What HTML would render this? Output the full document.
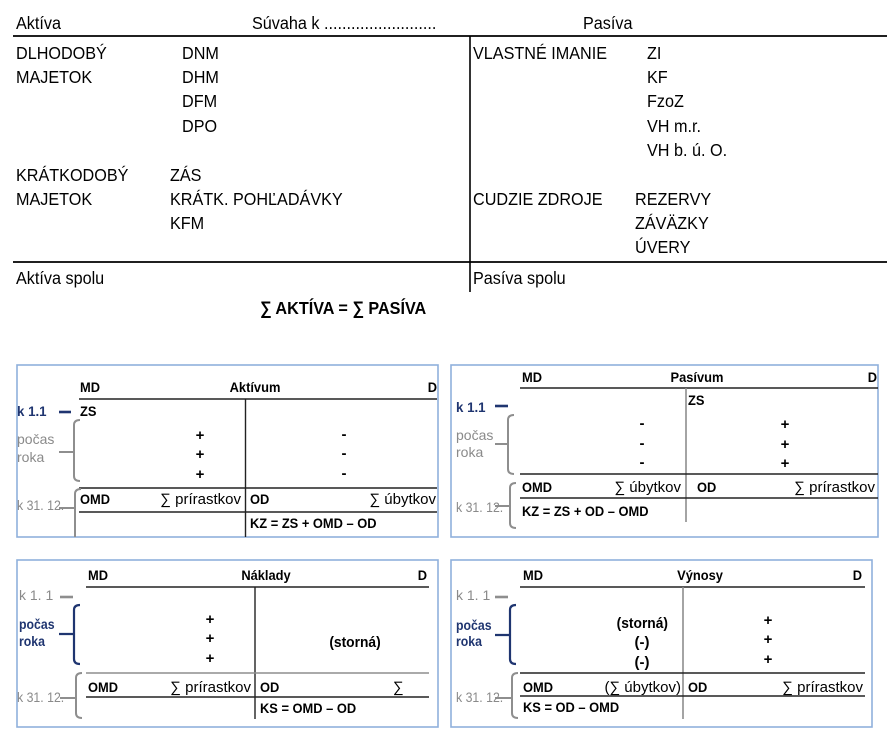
<!DOCTYPE html>
<html><head><meta charset="utf-8"><style>
html,body{margin:0;padding:0;background:#fff;}
svg{display:block;}
text{font-family:"Liberation Sans","DejaVu Sans",sans-serif;}
.t{font-size:18px;fill:#000;}
.b{font-size:14px;font-weight:bold;fill:#000;}
.p{font-size:15px;font-weight:bold;fill:#000;}
.r{font-size:15px;fill:#000;}
.g{font-size:14px;fill:#8a8a8a;}
.n{font-size:14px;font-weight:bold;fill:#1f3570;}
.ln{stroke:#222;stroke-width:1.4;fill:none;}
.lg{stroke:#8e8e8e;stroke-width:1.6;fill:none;}
.bx{stroke:#8fb0dc;stroke-width:1.6;fill:none;}
.bg{stroke:#8e8e8e;stroke-width:2;fill:none;}
.bn{stroke:#1f3570;stroke-width:2.2;fill:none;}
</style></head><body>
<svg width="887" height="737" viewBox="0 0 887 737" xmlns="http://www.w3.org/2000/svg">
<!-- top balance sheet -->
<line x1="13" y1="36" x2="887" y2="36" stroke="#000" stroke-width="1.8"/>
<line x1="13" y1="262" x2="887" y2="262" stroke="#000" stroke-width="1.8"/>
<line x1="470" y1="36" x2="470" y2="292" stroke="#000" stroke-width="1.6"/>
<g class="t">
<text transform="translate(16,29) scale(0.9,1)">Aktíva</text>
<text transform="translate(252,29) scale(0.9,1)">Súvaha k .........................</text>
<text transform="translate(583,29) scale(0.9,1)">Pasíva</text>
<text transform="translate(16,59) scale(0.9,1)">DLHODOBÝ</text>
<text transform="translate(16,83) scale(0.9,1)">MAJETOK</text>
<text transform="translate(182,59) scale(0.9,1)">DNM</text>
<text transform="translate(182,83) scale(0.9,1)">DHM</text>
<text transform="translate(182,107) scale(0.9,1)">DFM</text>
<text transform="translate(182,132) scale(0.9,1)">DPO</text>
<text transform="translate(16,181) scale(0.9,1)">KRÁTKODOBÝ</text>
<text transform="translate(16,205) scale(0.9,1)">MAJETOK</text>
<text transform="translate(170,181) scale(0.9,1)">ZÁS</text>
<text transform="translate(170,205) scale(0.9,1)">KRÁTK. POHĽADÁVKY</text>
<text transform="translate(170,229) scale(0.9,1)">KFM</text>
<text transform="translate(16,284) scale(0.9,1)">Aktíva spolu</text>
<text transform="translate(260,314) scale(0.9,1)" font-weight="bold">∑ AKTÍVA = ∑ PASÍVA</text>
<text transform="translate(473,59) scale(0.9,1)">VLASTNÉ IMANIE</text>
<text transform="translate(647,59) scale(0.9,1)">ZI</text>
<text transform="translate(647,83) scale(0.9,1)">KF</text>
<text transform="translate(647,107) scale(0.9,1)">FzoZ</text>
<text transform="translate(647,132) scale(0.9,1)">VH m.r.</text>
<text transform="translate(647,156) scale(0.9,1)">VH b. ú. O.</text>
<text transform="translate(473,205) scale(0.9,1)">CUDZIE ZDROJE</text>
<text transform="translate(635,205) scale(0.9,1)">REZERVY</text>
<text transform="translate(635,229) scale(0.9,1)">ZÁVÄZKY</text>
<text transform="translate(635,253) scale(0.9,1)">ÚVERY</text>
<text transform="translate(473,284) scale(0.9,1)">Pasíva spolu</text>
</g>

<!-- Box 1: Aktívum -->
<rect class="bx" x="17" y="365" width="421" height="172"/>
<line class="ln" x1="79" y1="399" x2="437" y2="399"/>
<line class="ln" x1="245.5" y1="399" x2="245.5" y2="537"/>
<line class="ln" x1="79" y1="488" x2="437" y2="488"/>
<line class="ln" x1="79" y1="512" x2="437" y2="512"/>
<text class="b" transform="translate(80,392) scale(0.92,1)">MD</text>
<text class="b" transform="translate(255,392) scale(0.92,1)" text-anchor="middle">Aktívum</text>
<text class="b" transform="translate(437,392) scale(0.92,1)" text-anchor="end">D</text>
<text class="n" transform="translate(17,416) scale(0.95,1)">k 1.1</text>
<line x1="59" y1="412" x2="71" y2="412" stroke="#1f3570" stroke-width="2.6"/>
<text class="b" transform="translate(80,416) scale(0.92,1)">ZS</text>
<path class="bg" d="M80,420 Q74,420 74,425 V476 Q74,481 80,481 M59,452 H74"/>
<text class="g" x="17" y="444">počas</text>
<text class="g" x="17" y="462">roka</text>
<text class="p" x="200" y="440" text-anchor="middle">+</text>
<text class="p" x="200" y="459" text-anchor="middle">+</text>
<text class="p" x="200" y="479" text-anchor="middle">+</text>
<text class="p" x="344" y="439" text-anchor="middle">-</text>
<text class="p" x="344" y="458" text-anchor="middle">-</text>
<text class="p" x="344" y="478" text-anchor="middle">-</text>
<path class="bg" d="M81,489 Q75,489 75,494 V537 M59,508 H75"/>
<text class="g" transform="translate(17,510) scale(0.88,1)">k 31. 12.</text>
<text class="b" transform="translate(80,504) scale(0.92,1)">OMD</text>
<text class="r" transform="translate(241,504)" text-anchor="end">∑ prírastkov</text>
<text class="b" transform="translate(250,504) scale(0.92,1)">OD</text>
<text class="r" transform="translate(436,504)" text-anchor="end">∑ úbytkov</text>
<text class="b" transform="translate(250,528) scale(0.92,1)">KZ = ZS + OMD – OD</text>

<!-- Box 2: Pasívum -->
<rect class="bx" x="451" y="365" width="427" height="172"/>
<line class="ln" x1="520" y1="388" x2="878" y2="388"/>
<line class="lg" x1="686" y1="388" x2="686" y2="522"/>
<line class="ln" x1="520" y1="474" x2="878" y2="474"/>
<line class="ln" x1="520" y1="498" x2="878" y2="498"/>
<text class="b" transform="translate(522,382) scale(0.92,1)">MD</text>
<text class="b" transform="translate(697,382) scale(0.92,1)" text-anchor="middle">Pasívum</text>
<text class="b" transform="translate(877,382) scale(0.92,1)" text-anchor="end">D</text>
<text class="n" transform="translate(456,412) scale(0.95,1)">k 1.1</text>
<line x1="495" y1="406" x2="508" y2="406" stroke="#1f3570" stroke-width="2.6"/>
<text class="b" transform="translate(688,405) scale(0.92,1)">ZS</text>
<path class="bg" d="M514,415 Q508,415 508,420 V469 Q508,474 514,474 M495,444 H508"/>
<text class="g" x="456" y="440">počas</text>
<text class="g" x="456" y="457">roka</text>
<text class="p" x="642" y="428" text-anchor="middle">-</text>
<text class="p" x="642" y="448" text-anchor="middle">-</text>
<text class="p" x="642" y="467" text-anchor="middle">-</text>
<text class="p" x="785" y="429" text-anchor="middle">+</text>
<text class="p" x="785" y="449" text-anchor="middle">+</text>
<text class="p" x="785" y="468" text-anchor="middle">+</text>
<path class="bg" d="M516,483 Q510,483 510,488 V523 Q510,528 516,528 M495,506 H510"/>
<text class="g" transform="translate(456,512) scale(0.88,1)">k 31. 12.</text>
<text class="b" transform="translate(522,492) scale(0.92,1)">OMD</text>
<text class="r" transform="translate(681,492)" text-anchor="end">∑ úbytkov</text>
<text class="b" transform="translate(697,492) scale(0.92,1)">OD</text>
<text class="r" transform="translate(875,492)" text-anchor="end">∑ prírastkov</text>
<text class="b" transform="translate(522,516) scale(0.92,1)">KZ = ZS + OD – OMD</text>

<!-- Box 3: Náklady -->
<rect class="bx" x="17" y="560" width="421" height="167"/>
<line class="ln" x1="86" y1="587" x2="429" y2="587"/>
<line class="ln" x1="255" y1="587" x2="255" y2="719"/>
<line class="lg" x1="86" y1="673" x2="429" y2="673"/>
<line class="ln" x1="86" y1="697" x2="429" y2="697"/>
<text class="b" transform="translate(88,580) scale(0.92,1)">MD</text>
<text class="b" transform="translate(266,580) scale(0.92,1)" text-anchor="middle">Náklady</text>
<text class="b" transform="translate(427,580) scale(0.92,1)" text-anchor="end">D</text>
<text class="g" x="19" y="600">k 1. 1</text>
<line x1="60" y1="597" x2="73" y2="597" stroke="#8e8e8e" stroke-width="2.6"/>
<path class="bn" d="M80,605 Q74,605 74,610 V659 Q74,664 80,664 M59,634 H74"/>
<text class="n" transform="translate(19,629) scale(0.88,1)">počas</text>
<text class="n" transform="translate(19,646) scale(0.88,1)">roka</text>
<text class="p" x="210" y="624" text-anchor="middle">+</text>
<text class="p" x="210" y="643" text-anchor="middle">+</text>
<text class="p" x="210" y="663" text-anchor="middle">+</text>
<text class="p" transform="translate(355,647) scale(0.92,1)" text-anchor="middle">(storná)</text>
<path class="bg" d="M82,673 Q76,673 76,678 V713 Q76,718 82,718 M60,698 H76"/>
<text class="g" transform="translate(17,702) scale(0.88,1)">k 31. 12.</text>
<text class="b" transform="translate(88,692) scale(0.92,1)">OMD</text>
<text class="r" transform="translate(251,692)" text-anchor="end">∑ prírastkov</text>
<text class="b" transform="translate(260,692) scale(0.92,1)">OD</text>
<text class="r" x="393" y="692">∑</text>
<text class="b" transform="translate(260,713) scale(0.92,1)">KS = OMD – OD</text>

<!-- Box 4: Výnosy -->
<rect class="bx" x="451" y="560" width="421" height="167"/>
<line class="ln" x1="520" y1="587" x2="865" y2="587"/>
<line class="lg" x1="683" y1="587" x2="683" y2="719"/>
<line class="ln" x1="520" y1="673" x2="865" y2="673"/>
<line class="ln" x1="520" y1="696" x2="865" y2="696"/>
<text class="b" transform="translate(523,580) scale(0.92,1)">MD</text>
<text class="b" transform="translate(700,580) scale(0.92,1)" text-anchor="middle">Výnosy</text>
<text class="b" transform="translate(862,580) scale(0.92,1)" text-anchor="end">D</text>
<text class="g" x="456" y="600">k 1. 1</text>
<line x1="495" y1="597" x2="508" y2="597" stroke="#8e8e8e" stroke-width="2.6"/>
<path class="bn" d="M516,605 Q510,605 510,610 V659 Q510,664 516,664 M495,635 H510"/>
<text class="n" transform="translate(456,630) scale(0.88,1)">počas</text>
<text class="n" transform="translate(456,646) scale(0.88,1)">roka</text>
<text class="p" transform="translate(668,628) scale(0.92,1)" text-anchor="end">(storná)</text>
<text class="p" x="642" y="647" text-anchor="middle">(-)</text>
<text class="p" x="642" y="667" text-anchor="middle">(-)</text>
<text class="p" x="768" y="625" text-anchor="middle">+</text>
<text class="p" x="768" y="644" text-anchor="middle">+</text>
<text class="p" x="768" y="664" text-anchor="middle">+</text>
<path class="bg" d="M518,673 Q512,673 512,678 V713 Q512,718 518,718 M495,698 H512"/>
<text class="g" transform="translate(456,702) scale(0.88,1)">k 31. 12.</text>
<text class="b" transform="translate(523,692) scale(0.92,1)">OMD</text>
<text class="r" transform="translate(681,692)" text-anchor="end">(∑ úbytkov)</text>
<text class="b" transform="translate(688,692) scale(0.92,1)">OD</text>
<text class="r" transform="translate(863,692)" text-anchor="end">∑ prírastkov</text>
<text class="b" transform="translate(523,712) scale(0.92,1)">KS = OD – OMD</text>
</svg>
</body></html>
